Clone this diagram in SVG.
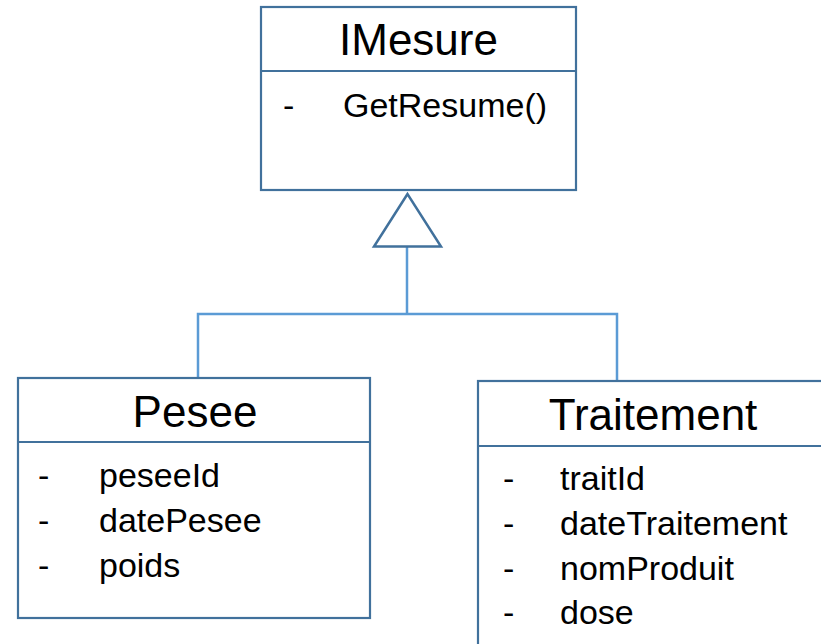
<svg xmlns="http://www.w3.org/2000/svg" width="821" height="644" viewBox="0 0 821 644">
  <style>
    .box { fill: #ffffff; stroke: #41719c; stroke-width: 2.2; }
    .sep { stroke: #41719c; stroke-width: 2.2; fill: none; }
    .title { font-family: "Liberation Sans", Arial, sans-serif; font-size: 44px; fill: #000000; text-anchor: middle; }
    .member { font-family: "Liberation Sans", Arial, sans-serif; font-size: 34px; fill: #000000; }
    .link { fill: none; stroke: #5b9bd5; stroke-width: 2.5; }
    .head { fill: #ffffff; stroke: #41719c; stroke-width: 2.5; stroke-linejoin: miter; }
  </style>
  <rect width="821" height="644" fill="#ffffff"/>

  <!-- generalization connectors -->
  <g id="connectors">
    <polyline class="link" points="407,246 407,314"/>
    <polyline class="link" points="198,380 198,314 617,314 617,381"/>
  </g>

  <!-- IMesure interface -->
  <g id="imesure">
    <rect class="box" x="261" y="7" width="315" height="183"/>
    <line class="sep" x1="261" y1="71" x2="576" y2="71"/>
    <text class="title" x="418.5" y="55">IMesure</text>
    <text class="member" x="283" y="117">-</text>
    <text class="member" x="343" y="117">GetResume()</text>
  </g>

  <!-- inheritance arrowhead -->
  <g id="arrowhead">
    <polygon class="head" points="407.5,194 374,246.5 441,246.5"/>
  </g>

  <!-- Pesee class -->
  <g id="pesee">
    <rect class="box" x="18" y="378" width="352" height="240"/>
    <line class="sep" x1="18" y1="442" x2="370" y2="442"/>
    <text class="title" x="195" y="427">Pesee</text>
    <text class="member" x="38" y="487">-</text>
    <text class="member" x="99" y="487">peseeId</text>
    <text class="member" x="38" y="532">-</text>
    <text class="member" x="99" y="532">datePesee</text>
    <text class="member" x="38" y="577">-</text>
    <text class="member" x="99" y="577">poids</text>
  </g>

  <!-- Traitement class -->
  <g id="traitement">
    <rect class="box" x="478" y="381" width="350" height="280"/>
    <line class="sep" x1="478" y1="446" x2="828" y2="446"/>
    <text class="title" x="653" y="430">Traitement</text>
    <text class="member" x="503" y="490">-</text>
    <text class="member" x="560" y="490">traitId</text>
    <text class="member" x="503" y="535">-</text>
    <text class="member" x="560" y="535">dateTraitement</text>
    <text class="member" x="503" y="580">-</text>
    <text class="member" x="560" y="580">nomProduit</text>
    <text class="member" x="503" y="624">-</text>
    <text class="member" x="560" y="624">dose</text>
  </g>
</svg>
